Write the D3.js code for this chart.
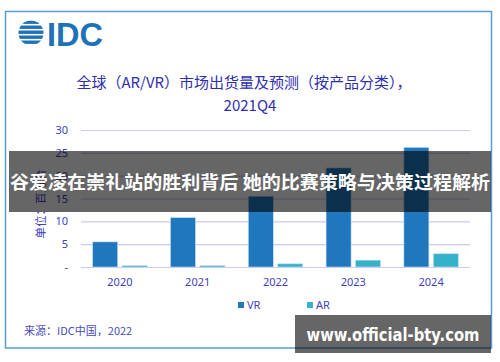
<!DOCTYPE html>
<html>
<head>
<meta charset="utf-8">
<script src="https://cdn.jsdelivr.net/npm/d3@7"></script>
<style>
  body { margin: 0; background: #fff; }
  svg { display: block; font-family: "Noto Sans CJK SC", "Noto Sans", sans-serif; }
</style>
</head>
<body>
<div id="chart"></div>
<script>
var years = ["2020", "2021", "2022", "2023", "2024"];
var keys = ["VR", "AR"];
var vrValues = [5.5, 10.8, 15.5, 21.7, 26.2];
var arValues = [0.3, 0.3, 0.7, 1.5, 2.9];
var yTicks = [0, 5, 10, 15, 20, 25, 30];

var W = 500, H = 362;
var plot = { left: 81, right: 470, top: 130, bottom: 267 };
var textBlue = "#3f3fc0";
var colors = { VR: "#1f78be", AR: "#35b1ca" };

var data = years.map(function(y, i) { return { year: y, VR: vrValues[i], AR: arValues[i] }; });

var svg = d3.select("#chart").append("svg")
    .attr("width", W)
    .attr("height", H);

// outer frame
svg.append("rect")
    .attr("x", 5.5).attr("y", 11.5)
    .attr("width", 486).attr("height", 336.5)
    .attr("fill", "#fff")
    .attr("stroke", "#5b9bd5")
    .attr("stroke-width", 1.5);

// IDC logo
var logo = svg.append("g").attr("transform", "translate(18,20)");
logo.append("clipPath").attr("id", "globe")
    .append("circle").attr("cx", 13).attr("cy", 13).attr("r", 12.5);
logo.append("g").attr("clip-path", "url(#globe)")
    .selectAll("rect")
    .data([0, 5, 10, 15, 20])
    .enter().append("rect")
    .attr("x", function(d, i) { return i === 2 ? -2 : 0; })
    .attr("y", function(d) { return d + 0.5; })
    .attr("width", 28)
    .attr("height", 3.4)
    .attr("fill", "#1f72b8");
logo.append("text")
    .attr("x", 29).attr("y", 25.5)
    .attr("font-family", "Liberation Sans, Arial, sans-serif")
    .attr("font-weight", "bold")
    .attr("font-size", 34)
    .attr("textLength", 56)
    .attr("lengthAdjust", "spacingAndGlyphs")
    .attr("fill", "#1f72b8")
    .text("IDC");

// title
svg.append("text")
    .attr("x", 244).attr("y", 88)
    .attr("text-anchor", "middle")
    .attr("font-size", 15)
    .attr("fill", "#2f2fae")
    .text("全球（AR/VR）市场出货量及预测（按产品分类），");
svg.append("text")
    .attr("x", 250).attr("y", 111)
    .attr("text-anchor", "middle")
    .attr("font-size", 15)
    .attr("fill", "#2f2fae")
    .text("2021Q4");

// scales
var x0 = d3.scaleBand()
    .domain(years)
    .range([plot.left, plot.right])
    .paddingInner(0.3)
    .paddingOuter(0.15);

var x1 = d3.scaleBand()
    .domain(keys)
    .range([0, x0.bandwidth()])
    .paddingInner(0.15);

var y = d3.scaleLinear()
    .domain([0, 30])
    .range([plot.bottom, plot.top]);

// gridlines
svg.append("g")
    .selectAll("line")
    .data(yTicks)
    .enter().append("line")
    .attr("x1", plot.left).attr("x2", plot.right)
    .attr("y1", function(d) { return y(d) + 0.5; })
    .attr("y2", function(d) { return y(d) + 0.5; })
    .attr("stroke", "#cacaf2")
    .attr("stroke-width", 1.2);

// y axis labels
var yAxis = svg.append("g")
    .attr("transform", "translate(" + (plot.left - 10) + ",0)")
    .call(d3.axisLeft(y).tickValues(yTicks).tickSize(0)
        .tickFormat(function(d) { return d === 0 ? "-" : d; }));
yAxis.select(".domain").remove();
yAxis.selectAll("text")
    .attr("fill", textBlue)
    .attr("font-size", 11)
    .attr("font-family", "Noto Sans, sans-serif");

// x axis labels
var xAxis = svg.append("g")
    .attr("transform", "translate(0," + (plot.bottom + 8) + ")")
    .call(d3.axisBottom(x0).tickSize(0));
xAxis.select(".domain").remove();
xAxis.selectAll("text")
    .attr("fill", textBlue)
    .attr("font-size", 11)
    .attr("font-family", "Noto Sans, sans-serif");

// y axis title
svg.append("text")
    .attr("transform", "translate(45,204) rotate(-90)")
    .attr("text-anchor", "middle")
    .attr("font-size", 11.5)
    .attr("fill", textBlue)
    .text("单位：百万台");

// bars
svg.append("g")
    .selectAll("g")
    .data(data)
    .enter().append("g")
    .attr("transform", function(d) { return "translate(" + x0(d.year) + ",0)"; })
    .selectAll("rect")
    .data(function(d) { return keys.map(function(k) { return { key: k, value: d[k] }; }); })
    .enter().append("rect")
    .attr("x", function(d) { return x1(d.key); })
    .attr("y", function(d) { return y(d.value); })
    .attr("width", x1.bandwidth())
    .attr("height", function(d) { return plot.bottom - y(d.value); })
    .attr("fill", function(d) { return colors[d.key]; })
    .attr("stroke", "#c9def2")
    .attr("stroke-width", 0.6);

// legend
var legend = svg.append("g")
    .selectAll("g")
    .data(keys)
    .enter().append("g")
    .attr("transform", function(d, i) { return "translate(" + (238 + i * 69) + ",302)"; });
legend.append("rect")
    .attr("width", 6).attr("height", 6)
    .attr("fill", function(d) { return colors[d]; });
legend.append("text")
    .attr("x", 9).attr("y", 7)
    .attr("font-size", 11)
    .attr("font-family", "Noto Sans, sans-serif")
    .attr("fill", textBlue)
    .text(function(d) { return d; });

// source
svg.append("text")
    .attr("x", 24).attr("y", 335)
    .attr("font-size", 11)
    .attr("fill", "#4a4abf")
    .text("来源：IDC中国，2022");

// overlay banners
svg.append("rect")
    .attr("x", 9).attr("y", 151)
    .attr("width", 482).attr("height", 61)
    .attr("fill", "rgba(0,0,0,0.6)");
svg.append("text")
    .attr("x", 250).attr("y", 189)
    .attr("text-anchor", "middle")
    .attr("font-size", 18.5)
    .attr("font-weight", "bold")
    .attr("fill", "#fff")
    .attr("textLength", 480)
    .attr("lengthAdjust", "spacingAndGlyphs")
    .text("谷爱凌在崇礼站的胜利背后 她的比赛策略与决策过程解析");

svg.append("rect")
    .attr("x", 295).attr("y", 315)
    .attr("width", 196).attr("height", 38)
    .attr("fill", "rgba(0,0,0,0.6)");
svg.append("text")
    .attr("x", 393).attr("y", 341)
    .attr("text-anchor", "middle")
    .attr("font-size", 17)
    .attr("font-weight", "bold")
    .attr("font-family", "DejaVu Sans, sans-serif")
    .attr("fill", "#fff")
    .attr("textLength", 173)
    .attr("lengthAdjust", "spacingAndGlyphs")
    .text("www.official-bty.com");
</script>
</body>
</html>
